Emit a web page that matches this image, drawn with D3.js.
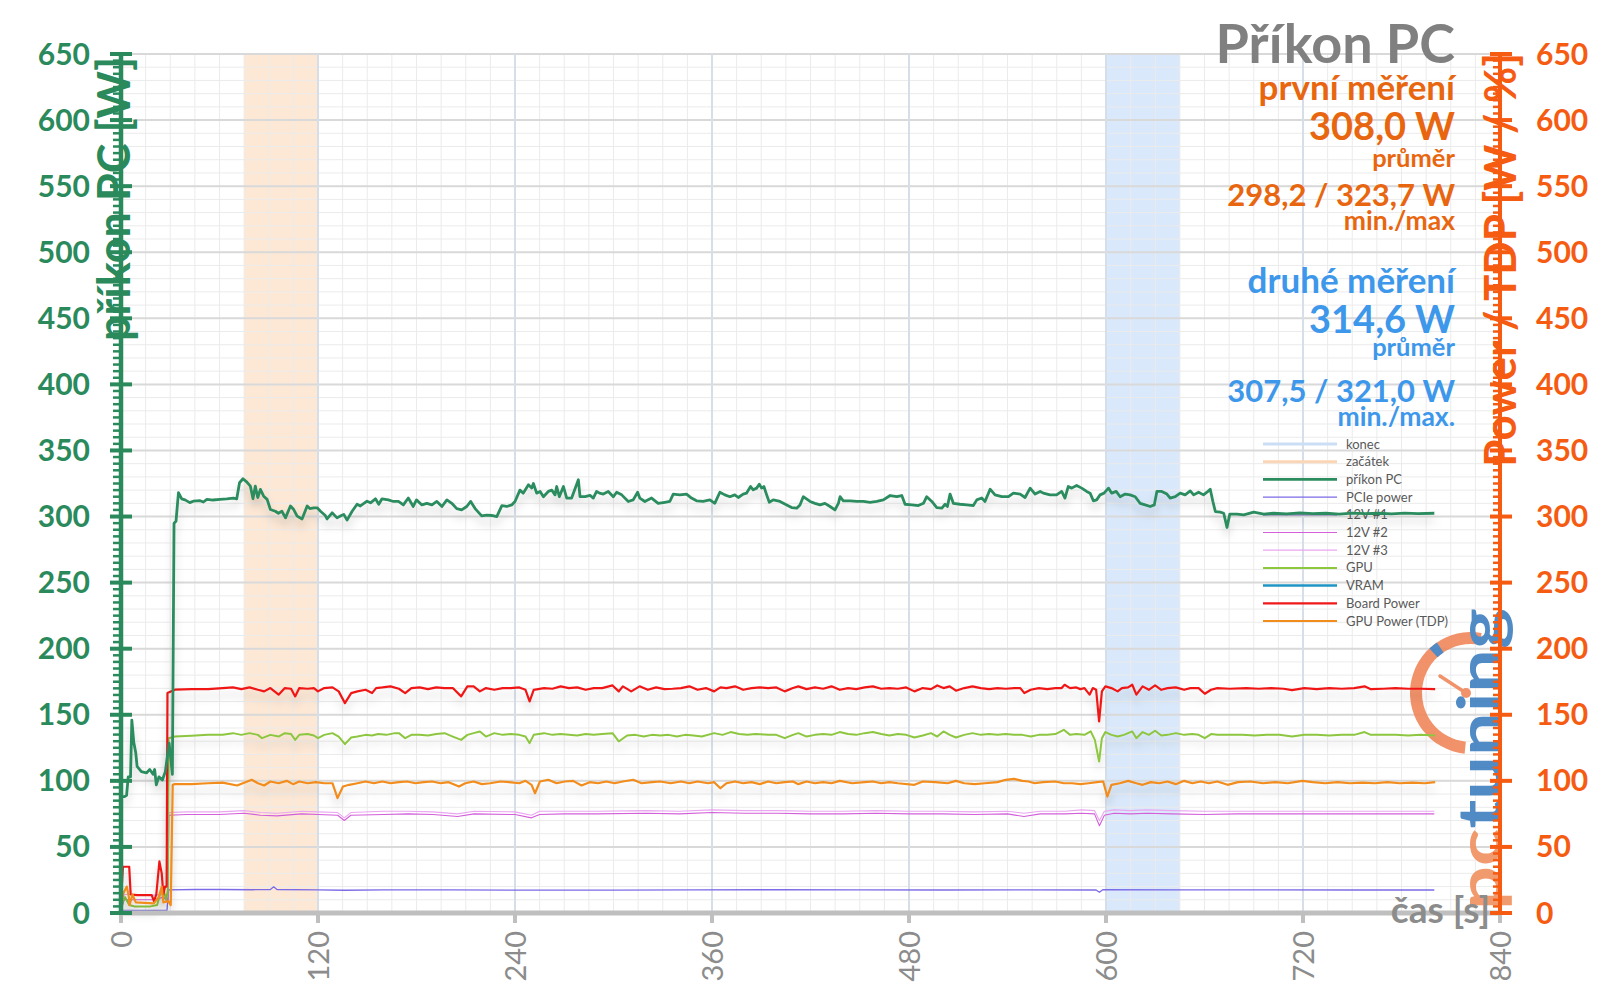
<!DOCTYPE html>
<html><head><meta charset="utf-8">
<script src="https://cdn.jsdelivr.net/npm/d3@7"></script>
<style>
body{margin:0;background:#fff}
svg{display:block}
text{font-family:Lato,"Open Sans",sans-serif}
</style></head>
<body><svg id="c" width="1600" height="1008"></svg>
<script>
// ---------------- DATA ----------------
const xTickValues = [0,120,240,360,480,600,720,840];
const yTickValues = [0,50,100,150,200,250,300,350,400,450,500,550,600,650];
const seriesNames = ["konec","začátek","příkon PC","PCIe power","12V #1","12V #2","12V #3","GPU","VRAM","Board Power","GPU Power (TDP)"];
const zacatek = [75,120];
const konec = [600,645];
const chartTitle = "Příkon PC";
const firstMeasurement = ["první měření","308,0 W","průměr","298,2 / 323,7 W","min./max"];
const secondMeasurement = ["druhé měření","314,6 W","průměr","307,5 / 321,0 W","min./max."];
const yTitleLeft = "příkon PC [W]";
const yTitleRight = "Power / TDP [W / %]";
const xTitle = "čas [s]";

const prikonPC = [[0,88],[2,88],[3.4,89],[4.4,103],[5.8,103],[6.6,146],[7.8,129],[9,121],[9.8,111],[12.4,107],[15.5,106],[17.5,108.6],[19.5,105],[20.5,108.6],[21.5,97],[23.1,103],[25.2,100.6],[27,107],[29.3,128.5],[31.3,105],[32.3,295],[33.5,296.4],[35,318],[37,313.4],[39,312.6],[41.9,310.5],[44,311.6],[48.2,312],[50.2,311],[52.3,313],[56,312.5],[60.4,313],[64.4,313.4],[68.5,314],[70.5,313.4],[72.2,325.6],[74.3,328.6],[76.7,326],[78.8,323],[80.4,313.4],[81.8,323],[83.3,314.4],[84.9,320.5],[86.9,315.4],[89,313],[91,305.3],[94,304],[95.9,302.5],[98,304],[100.2,299],[103.2,308],[105.2,305.3],[107.3,300.3],[110.3,298.2],[113.4,308],[115,306],[117.4,306.6],[119.5,306.6],[121.5,304],[124.3,301],[125.5,298.2],[128.6,302.8],[131.6,299],[134.5,301],[135.7,301.6],[137.7,297.3],[140.8,304],[143.8,309.3],[145.8,308],[149.9,311.6],[152,310.4],[155,313.4],[157,309.3],[159,313.4],[162.8,312.6],[165.9,311.4],[169,311.4],[172,308.8],[175,314],[178,307.6],[180,312.6],[183.3,308.8],[186.3,310],[189.4,308.8],[192.4,311.4],[195.5,307.6],[198.5,312.6],[201.5,310],[204.5,306],[207.5,305],[210.6,307.6],[213,311.4],[215.7,306],[219.7,300.5],[222.8,301],[225.8,300.8],[228.9,300],[232,308.3],[235,307.6],[238,308.8],[240,311.4],[243,320],[245,317.7],[248.2,324],[250.2,321.5],[251.2,325],[253.2,317.7],[255.3,319],[257.3,315],[260.3,319],[262.4,320],[264.4,316.4],[265.4,322.7],[267,315],[269.5,322.7],[271.5,314],[274.5,314],[278.6,327.8],[279.6,315],[282.7,315],[285.7,316],[287.7,314],[289.7,319],[291.5,317.7],[293.8,317],[296.8,319],[299.9,315],[301.9,318.4],[305,316.4],[309,311.4],[312,312.6],[314.7,318.4],[316,314],[319.1,311.4],[323.2,314],[327.2,310],[331.3,310.8],[334.3,311.4],[336.4,317],[340.4,316.4],[344.5,317],[347.5,314],[350.6,311.9],[354.6,311.4],[358.7,312.6],[361.7,310],[364.8,318.4],[367.8,316.4],[370.9,315],[373.9,316.4],[376,314.4],[379,317],[381,317.7],[383.5,322.7],[385.1,320.2],[387.2,321.5],[388.8,324.5],[390.2,321.5],[391.6,322.7],[393.3,316.4],[394.9,310.8],[397.3,312.6],[401.4,311.4],[405.5,308.8],[408.5,306.8],[411.6,306.3],[413.6,308.8],[415.6,315],[419.7,311.4],[422.7,310],[425.8,308.8],[428.8,310],[431.9,307.6],[434.9,305],[437,310],[438,315],[440,311.9],[444.1,311.9],[448.2,311.4],[452.2,311.4],[456.3,310.8],[460.4,311.4],[464.4,312.6],[468.5,315.9],[472.6,315],[475.6,315.9],[477.6,309.3],[481.7,308.8],[485.7,308.3],[488.8,310],[490.8,315],[493.9,311.4],[496.9,306.8],[500,306.3],[502,309.3],[503.4,307.6],[505,317],[507,310],[511.1,309.3],[515.2,308.8],[519.2,308.3],[521.3,312.6],[524.3,314],[526.3,311.4],[529.4,320.7],[532.4,316.4],[536.5,315],[540.6,315],[543.6,317.7],[547.7,317],[550.7,314.4],[553.8,321.5],[556.8,317],[559.9,319],[561.8,317.7],[565.9,316.4],[569.9,316.4],[573,319],[575,314],[577,322.7],[579.1,321.5],[582.1,323.5],[585.2,321.5],[588.2,319],[590.3,317.7],[592.3,311.9],[594.3,312.6],[596.4,316.4],[598.8,317.7],[601.5,321.5],[603.5,317.7],[606.2,319],[608.6,315],[611.7,317],[614.7,316.4],[617.8,315],[620.8,310],[623.9,308.8],[626.9,307.6],[629.4,308.8],[631,319],[634,319],[637.1,317],[639.1,314],[642.2,315],[645.2,317.7],[648.2,316.4],[651.3,319.4],[653.4,316.4],[656.4,318.4],[659.4,316.4],[661.5,318.4],[663.5,320.7],[665.1,311.4],[666.6,303.8],[669.6,303.3],[671.7,302.5],[673.7,291.7],[675.4,301.8],[679.8,301.8],[683.9,301.3],[690,303.3],[696.1,301.8],[702,302.5],[710,302],[718,302.8],[726,302.2],[734,302.5],[742,301.8],[750,302.6],[758,302.2],[766,302.5],[774,302],[782,302.6],[790,302.2],[800,302.5]];

const boardPower = [[0,11],[1.2,35],[5,35],[5.9,14],[10,13.5],[18.7,13.5],[20.1,9],[21.5,14],[23.4,39],[24.8,30],[25.8,14],[26.8,20],[27.8,20],[28.3,166.4],[32.8,169],[43,169.4],[53,169.4],[61.9,170.2],[68.2,170.7],[73.3,169.4],[78.3,170.7],[83.4,168.9],[87.2,167.7],[91,170.2],[96,165.2],[99.8,170.2],[103.6,169.7],[106.1,163.9],[108.6,170.2],[113.7,169.7],[117.5,170.2],[120,167.7],[123.8,170.2],[128.8,170.7],[132.6,167.7],[136.4,158.8],[140.2,166.4],[144,167.7],[149,168.9],[152.9,166.4],[155.4,170.2],[159.2,170.7],[164.2,171.5],[169.3,169.7],[173.1,166.4],[176.9,170.2],[181.9,170.7],[187,169.4],[192,170.7],[197.1,170.2],[202.1,170.2],[207.2,163.9],[211,171.5],[214.8,171.5],[218.6,167.7],[222.3,170.2],[227.4,168.9],[232.5,170.2],[237.5,170.2],[242.6,170.7],[246.4,168.9],[248.9,160.1],[251.4,168.9],[257.7,170.2],[262.8,169.7],[267.8,171.5],[272.9,170.2],[277.9,170.7],[283,168.9],[288,170.2],[293.1,170.2],[299.4,172.2],[303.2,167.7],[305.7,171.5],[310.8,167.7],[315.9,171.5],[320.9,168.9],[326,170.7],[331,169.4],[336,169.7],[341.1,170.2],[346.2,171.5],[351.2,168.9],[356.3,170.2],[361.3,167.7],[365.1,170.7],[368.9,170.2],[374,171.5],[379,168.9],[384.1,170.2],[389.1,170.7],[394.2,170.2],[399.2,170.7],[404.3,167.7],[409.3,170.2],[412.6,171.5],[417.6,169.4],[422.7,170.7],[427.7,169.7],[432.8,171.5],[437.8,168.9],[442.9,170.2],[447.9,169.4],[453,170.7],[458,171.5],[463.1,169.7],[468.1,170.2],[473.2,169.7],[478.3,170.7],[483.3,167.7],[488.4,170.2],[493.4,169.4],[497.2,172.2],[501,170.2],[504.8,171.5],[508.6,168.2],[513.6,170.2],[518.7,171.5],[523.7,170.2],[528.8,169.4],[533.9,170.2],[538.9,169.7],[544,170.2],[547.8,170.2],[550.3,166.4],[554.1,168.9],[559.1,170.2],[564.2,169.4],[569.2,170.2],[573,170.2],[574.8,172.7],[578.1,170.2],[581.9,170.7],[584.4,169.4],[586.9,170.2],[590,165.2],[592,170.2],[594,168.9],[595.8,144.9],[597.5,167.7],[599.6,171.5],[603.3,170.2],[607.1,167.7],[609.7,170.2],[613.5,170.7],[616,172.7],[618.5,165.2],[622.3,171.5],[626.1,168.9],[629.9,172.2],[633.7,168.9],[637.5,170.2],[642.5,170.7],[647.6,168.9],[651.4,170.2],[656.4,170.2],[660.2,165.9],[664,168.9],[667.8,170.2],[675.4,169.7],[685.5,170.2],[693,169.7],[700.6,170.2],[708.2,169.7],[713.3,168.6],[720.8,170.2],[728.4,169.4],[736,170.2],[743.6,169.7],[751.2,170.2],[757.5,171.5],[761.3,169.4],[768.9,169.7],[776.4,170.2],[784,169.7],[791.6,169.7],[800.5,169.4]];

const gpu = [[0,3],[1,8],[2.5,12],[5,6],[8,5],[18,5],[22,6],[24,15],[26,17],[27.5,10],[28.5,17],[29,132.3],[32.8,133.5],[43,134.1],[53,134.8],[61.9,134.8],[68.2,136.1],[73.3,134.8],[78.3,136.1],[83.4,134.8],[85.9,132.3],[91,134.8],[96,133.5],[99.8,136.1],[103.6,135.4],[106.1,131],[108.6,134.8],[113.7,135.4],[117.5,134.3],[120,132.3],[123.8,134.8],[128.8,136.1],[132.6,133.5],[136.4,127.8],[140.2,132.8],[144,133.5],[149,134.8],[152.9,134.3],[156.6,135.4],[161.7,134.8],[166.8,136.1],[169.3,136.1],[173.1,132.3],[176.9,134.8],[181.9,134.8],[187,134.3],[192,135.4],[197.1,136.1],[202.1,133.5],[207.2,131],[211,134.8],[214.8,136.1],[218.6,137.4],[222.3,133.5],[227.4,136.1],[232.5,134.8],[237.5,135.4],[242.6,134.8],[246.4,133.5],[248.9,128.5],[251.4,134.8],[257.7,136.1],[262.8,134.8],[267.8,135.4],[272.9,134.8],[277.9,134.3],[283,135.4],[288,134.8],[293.1,135.4],[299.4,136.1],[303.2,129.8],[308.3,134.3],[313.3,134.8],[318.4,133.5],[323.4,134.8],[328.5,134.3],[333.5,134.8],[338.6,133.5],[343.6,134.8],[348.7,134.3],[353.8,133.5],[361.3,136.1],[366.4,134.8],[371.4,136.9],[376.5,135.4],[381.5,134.8],[386.6,135.4],[394.2,134.8],[399.2,134.8],[404.3,132.3],[409.3,134.8],[412.6,136.1],[417.6,133.5],[422.7,134.8],[427.7,135.4],[432.8,134.8],[437.8,136.9],[442.9,135.4],[447.9,134.8],[453,136.1],[458,136.9],[463.1,135.4],[468.1,134.3],[473.2,135.4],[478.3,134.8],[483.3,132.8],[488.4,134.3],[493.4,136.1],[497.2,133.5],[501,137.4],[504.8,134.8],[508.6,132.8],[513.6,134.8],[518.7,136.1],[523.7,134.8],[528.8,135.4],[533.9,134.8],[538.9,135.4],[544,134.8],[549,134.8],[554.1,133.5],[559.1,134.8],[564.2,134.8],[569.2,135.4],[574.3,138.6],[578.1,134.8],[581.9,135.4],[586.9,134.8],[590.7,137.4],[593.2,131],[595.8,114.6],[597.5,132.3],[599.6,136.9],[603.3,134.8],[607.1,133.5],[610.9,134.8],[616,137.4],[618.5,132.3],[622.3,136.9],[626.1,134.8],[629.9,137.9],[633.7,134.3],[637.5,134.8],[642.5,136.1],[647.6,134.8],[652.6,135.4],[656.4,134.8],[660.2,132.3],[664,135.4],[667.8,134.8],[675.4,134.8],[683,134.8],[690.5,134.3],[698.1,134.8],[705.7,134.8],[713.3,133.5],[720.8,134.8],[728.4,134.8],[736,134.3],[743.6,134.8],[751.2,134.8],[757.5,136.9],[761.3,134.8],[768.9,134.8],[776.4,134.8],[784,134.3],[791.6,134.8],[800.5,134.3]];

const gpuPowerTDP = [[0,7],[1.5,15],[3.5,20],[4.8,12],[5.2,6],[7,14],[9,8],[20,7.3],[23,12],[24.8,19.9],[25.8,8],[28.8,9],[30.3,6],[31.5,97],[32.8,97.5],[43,97.5],[53,98.2],[61.9,98.7],[70.7,96.5],[75.8,99],[79.6,100.8],[83.4,98.2],[87.2,96.5],[91,99.5],[96,98.2],[101,100],[104.8,97.5],[108.6,99.5],[113.7,98.2],[118.7,99],[123.8,98.2],[128.8,98.2],[131.9,86.9],[135.2,95.7],[139,97],[144,98.2],[149,99.5],[154.1,98.2],[159.2,99.5],[164.2,98.2],[169.3,99],[174.3,99.5],[179.4,98.2],[184.4,99],[189.5,99.5],[194.6,98.2],[199.6,99],[205.9,95.7],[209.7,98.2],[214.8,99.5],[219.8,97.5],[224.9,98.2],[231.2,99.5],[236.3,99],[242.6,98.2],[246.4,100],[250.1,97],[252.2,90.6],[255.2,99.5],[260.3,100.8],[265.3,98.2],[270.4,99.5],[275.4,100],[280.5,96.5],[285.5,99],[290.6,98.2],[295.6,99.5],[300.7,98.2],[305.7,99.5],[312,100.8],[317.1,98.2],[323.4,99],[328.5,99.5],[334.8,98.2],[341.1,99.5],[346.2,98.2],[351.2,99.5],[357.6,98.2],[361.3,99],[365.1,94.4],[368.9,98.2],[374,99.5],[379,98.2],[384.1,99],[389.1,97.5],[394.2,99.5],[399.2,98.2],[404.3,99],[409.3,99.5],[412.6,97.5],[417.6,99.5],[422.7,98.2],[427.7,99],[432.8,98.2],[437.8,100],[445.4,98.2],[453,99],[458,99.5],[463.1,98.2],[468.1,99],[473.2,98.2],[483.3,97],[488.4,99.5],[495.9,99],[503.5,98.2],[508.6,100],[513.6,98.2],[519.9,97.5],[526.3,98.2],[533.9,99],[538.9,100.8],[544,101.5],[549,100],[552.8,99.5],[556.6,98.2],[561.6,99],[569.2,99.5],[574.3,98.2],[579.3,98.2],[584.4,97.5],[589.4,98.2],[594.5,99],[598.3,99.5],[600.8,88.1],[603.3,97],[608.4,98.2],[613.5,100],[618.5,98.2],[622.3,97],[627.3,99],[632.4,98.2],[637.5,99.5],[642.5,97.5],[647.6,100],[652.6,98.2],[657.7,99.5],[662.7,98.2],[667.8,99.5],[674.1,97],[680.4,99],[688,99.5],[695.6,98.2],[703.2,99],[710.7,98.2],[719.6,100],[725.9,99],[733.5,98.2],[741.1,99],[748.6,98.2],[756.2,98.7],[763.8,98.2],[771.4,99],[779,98.2],[786.6,98.7],[794.1,98.2],[800.5,99]];

const v12_2 = [[0,2],[2,10],[5,10],[20,10],[26,12],[28.5,8],[29.2,74],[40,74.5],[60,74.5],[75,75.5],[85,74],[95,73.5],[110,75],[120,74.5],[132,74],[136,70],[140,74],[160,74.5],[175,75],[190,74.5],[205,73],[215,75],[240,74.5],[250,72],[255,74.5],[270,75],[290,75],[320,75.5],[340,75],[360,76],[380,75.5],[400,75.5],[420,75],[440,75],[460,75.5],[480,75],[500,75],[520,74.5],[540,75],[550,73],[560,75],[575,75],[585,75.5],[593,75],[596,66],[599,74],[605,75.5],[615,75],[625,75.5],[640,75],[660,74.5],[680,75],[700,75],[730,75],[760,75],[800,75]];

const v12_3 = [[0,4],[2,14],[5,14],[20,13.5],[26,14],[28.5,12],[29.2,76],[40,76.5],[60,76.5],[75,77.5],[85,76],[95,75.5],[110,77],[120,76.5],[132,76],[136,72],[140,76],[160,77],[175,77],[190,76.5],[205,75],[215,77],[240,76.5],[250,74],[255,77],[270,77],[290,77],[320,77.5],[340,77],[360,78],[380,77.5],[400,77.5],[420,77],[440,77],[460,77.5],[480,77],[500,77],[520,76.5],[540,77],[550,75.5],[560,77],[575,77],[585,78],[593,77.5],[596,70],[599,77],[605,78],[615,77.5],[625,78],[640,77.5],[660,77],[680,77],[700,77],[730,77],[760,77],[800,77]];

const pciePower = [[0,2],[28,2],[29,17.5],[45,17.8],[60,17.8],[80,17.6],[91,17.8],[93,19.8],[95,17.8],[120,17.5],[136,17.2],[160,17.5],[200,17.5],[250,17.3],[300,17.3],[350,17.5],[400,17.6],[450,17.5],[500,17.4],[550,17.5],[594,17.4],[596,15.7],[598,17.6],[650,17.5],[700,17.5],[750,17.4],[800,17.4]];

const v12_1 = [];
const vram = [];

// ---------------- DRAWING ----------------
const W = 1600, H = 1008;
const svg = d3.select("#c");
const x = d3.scaleLinear().domain([0, 840]).range([121, 1500]);
const y = d3.scaleLinear().domain([0, 650]).range([913, 54]);

const GREEN = "#2a8a5c", ORANGE_AX = "#f65b12", ORANGE_TX = "#e8660f", BLUE_TX = "#3d97ea", GRAY = "#8c8c8c";

const style = {
  "konec": {c:"#cadff5", w:3},
  "začátek": {c:"#fbd6b6", w:3},
  "příkon PC": {c:"#2b8c5e", w:2.8},
  "PCIe power": {c:"#7b6be6", w:1.3},
  "12V #1": {c:"#6e5aa8", w:1.3},
  "12V #2": {c:"#d35fda", w:1.1},
  "12V #3": {c:"#eaa6f1", w:1.1},
  "GPU": {c:"#8dc63f", w:2},
  "VRAM": {c:"#1f95c4", w:2.5},
  "Board Power": {c:"#f01818", w:2.2},
  "GPU Power (TDP)": {c:"#f28c1c", w:2.2}
};

const defs = svg.append("defs");
const f = defs.append("filter").attr("id","sh").attr("filterUnits","userSpaceOnUse")
  .attr("x",0).attr("y",0).attr("width",W).attr("height",H);
f.append("feDropShadow").attr("dx",0).attr("dy",7).attr("stdDeviation",4)
  .attr("flood-color","#000").attr("flood-opacity",0.17);

// bands
[[zacatek,"#fde8d6"],[konec,"#d9e8fa"]].forEach(([b,c]) => {
  svg.append("rect").attr("x", x(b[0])).attr("width", x(b[1]) - x(b[0]))
    .attr("y", y(650)).attr("height", y(0) - y(650)).attr("fill", c);
});

// grid
const grid = svg.append("g");
grid.selectAll(".hm").data(d3.range(0, 651, 10)).join("line")
  .attr("x1", x(0)).attr("x2", x(840)).attr("y1", d => y(d)).attr("y2", d => y(d))
  .attr("stroke", "#ebebeb").attr("stroke-width", 1);
grid.selectAll(".vm").data(d3.range(0, 841, 15)).join("line")
  .attr("x1", d => x(d)).attr("x2", d => x(d)).attr("y1", y(0)).attr("y2", y(650))
  .attr("stroke", "#ebebeb").attr("stroke-width", 1);
grid.selectAll(".hM").data(yTickValues).join("line")
  .attr("x1", x(0)).attr("x2", x(840)).attr("y1", d => y(d)).attr("y2", d => y(d))
  .attr("stroke", "#d9d9d9").attr("stroke-width", 2);
grid.selectAll(".vM").data(xTickValues.slice(1, -1)).join("line")
  .attr("x1", d => x(d)).attr("x2", d => x(d)).attr("y1", y(0)).attr("y2", y(650))
  .attr("stroke", "#d6dee8").attr("stroke-width", 2);

// legend
const leg = svg.append("g");
seriesNames.forEach((n, i) => {
  const yy = 444 + i * 17.7;
  leg.append("line").attr("x1", 1263).attr("x2", 1337).attr("y1", yy).attr("y2", yy)
    .attr("stroke", style[n].c).attr("stroke-width", Math.max(1.2, style[n].w));
  leg.append("text").attr("x", 1346).attr("y", yy + 4.5).attr("font-size", 13)
    .attr("fill", "#595959").text(n);
});

// logo (watermark)
const logo = svg.append("g").attr("opacity", 0.9);
const arc = d3.arc().innerRadius(49).outerRadius(61);
logo.append("path").attr("transform", "translate(1471,693)")
  .attr("d", arc({startAngle: 186 * Math.PI / 180, endAngle: 370 * Math.PI / 180}))
  .attr("fill", "#f0875a");
logo.append("path").attr("transform", "translate(1471,693)")
  .attr("d", arc({startAngle: 317 * Math.PI / 180, endAngle: 326 * Math.PI / 180}))
  .attr("fill", "#3f7fc0");
logo.append("line").attr("x1", 1466).attr("y1", 693).attr("x2", 1440).attr("y2", 676)
  .attr("stroke", "#f0875a").attr("stroke-width", 3.5).attr("stroke-linecap", "round");
logo.append("circle").attr("cx", 1466).attr("cy", 693).attr("r", 5).attr("fill", "#f0875a");
const lt = logo.append("text").attr("transform", "translate(1502,910) rotate(-90)")
  .attr("font-size", 62).attr("font-weight", 700)
  .attr("textLength", 302).attr("lengthAdjust", "spacingAndGlyphs");
lt.append("tspan").attr("fill", "#f0905f").text("pc");
lt.append("tspan").attr("fill", "#3f7fc0").text("tuning");

// series
const line = d3.line().x(d => x(d[0])).y(d => y(d[1]));
const seriesData = [
  ["PCIe power", pciePower], ["12V #1", v12_1], ["12V #2", v12_2], ["12V #3", v12_3],
  ["GPU", gpu], ["VRAM", vram], ["Board Power", boardPower], ["GPU Power (TDP)", gpuPowerTDP],
  ["příkon PC", prikonPC]
];
const lines = svg.append("g");
seriesData.forEach(([n, d]) => {
  if (!d.length) return;
  lines.append("path").attr("d", line(d)).attr("fill", "none")
    .attr("stroke", style[n].c).attr("stroke-width", style[n].w)
    .attr("stroke-linejoin", "round")
    .attr("filter", style[n].w >= 2 ? "url(#sh)" : null);
});

// x axis
const xa = svg.append("g");
xa.append("line").attr("x1", x(0) - 2).attr("x2", x(840)).attr("y1", y(0)).attr("y2", y(0))
  .attr("stroke", "#bfbfbf").attr("stroke-width", 5);
xa.selectAll(".xt").data(xTickValues).join("line")
  .attr("x1", d => x(d)).attr("x2", d => x(d)).attr("y1", y(0)).attr("y2", y(0) + 10)
  .attr("stroke", "#bfbfbf").attr("stroke-width", 4);
xa.selectAll(".xl").data(xTickValues).join("text")
  .attr("transform", d => `translate(${x(d) + 10.5},${y(0) + 18}) rotate(-90)`)
  .attr("text-anchor", "end").attr("font-size", 29).attr("fill", GRAY).text(d => d);
xa.append("text").attr("x", 1490).attr("y", 923).attr("text-anchor", "end")
  .attr("font-size", 37).attr("font-weight", 700).attr("fill", GRAY).text(xTitle);

// left axis
const la = svg.append("g");
la.append("line").attr("x1", x(0)).attr("x2", x(0)).attr("y1", y(650) - 1).attr("y2", y(0) + 2)
  .attr("stroke", GREEN).attr("stroke-width", 4.5);
la.selectAll(".mn").data(d3.range(0, 651, 5).filter(v => v % 50)).join("line")
  .attr("x1", 113).attr("x2", x(0)).attr("y1", d => y(d)).attr("y2", d => y(d))
  .attr("stroke", GREEN).attr("stroke-width", 2.5);
la.selectAll(".mj").data(yTickValues).join("line")
  .attr("x1", 110).attr("x2", 132).attr("y1", d => y(d)).attr("y2", d => y(d))
  .attr("stroke", GREEN).attr("stroke-width", 4);
la.selectAll(".yl").data(yTickValues).join("text")
  .attr("x", 90).attr("y", d => y(d) + 10.5).attr("text-anchor", "end")
  .attr("font-size", 30).attr("font-weight", 700).attr("fill", GREEN).text(d => d);
la.append("text").attr("transform", "translate(130,57) rotate(-90)").attr("text-anchor", "end")
  .attr("font-size", 45).attr("font-weight", 700).attr("fill", GREEN).text(yTitleLeft);

// right axis
const ra = svg.append("g");
ra.append("line").attr("x1", x(840)).attr("x2", x(840)).attr("y1", y(650) - 1).attr("y2", y(0) + 2)
  .attr("stroke", ORANGE_AX).attr("stroke-width", 4);
ra.selectAll(".mn").data(d3.range(0, 651, 5).filter(v => v % 50)).join("line")
  .attr("x1", 1493).attr("x2", x(840)).attr("y1", d => y(d)).attr("y2", d => y(d))
  .attr("stroke", ORANGE_AX).attr("stroke-width", 2.5);
ra.selectAll(".mj").data(yTickValues).join("line")
  .attr("x1", 1490).attr("x2", 1512).attr("y1", d => y(d)).attr("y2", d => y(d))
  .attr("stroke", ORANGE_AX).attr("stroke-width", 4);
ra.selectAll(".yl").data(yTickValues).join("text")
  .attr("x", 1536).attr("y", d => y(d) + 10.5).attr("text-anchor", "start")
  .attr("font-size", 30).attr("font-weight", 700).attr("fill", ORANGE_AX).text(d => d);
ra.append("text").attr("transform", "translate(1516,53) rotate(-90)").attr("text-anchor", "end")
  .attr("font-size", 44).attr("font-weight", 700).attr("fill", ORANGE_AX).text(yTitleRight);

// title block
const tb = svg.append("g").attr("text-anchor", "end").attr("font-weight", 700);
tb.append("text").attr("x", 1455).attr("y", 63).attr("font-size", 54).attr("fill", "#808080").text(chartTitle);
const sizes = [35, 38, 25.5, 31, 26.5];
const base1 = [100, 140, 167, 206, 230];
const base2 = [293, 333, 356, 402, 426];
firstMeasurement.forEach((t, i) => tb.append("text").attr("x", 1455).attr("y", base1[i])
  .attr("font-size", sizes[i]).attr("fill", ORANGE_TX).text(t));
secondMeasurement.forEach((t, i) => tb.append("text").attr("x", 1455).attr("y", base2[i])
  .attr("font-size", sizes[i]).attr("fill", BLUE_TX).text(t));
</script>
</body></html>
